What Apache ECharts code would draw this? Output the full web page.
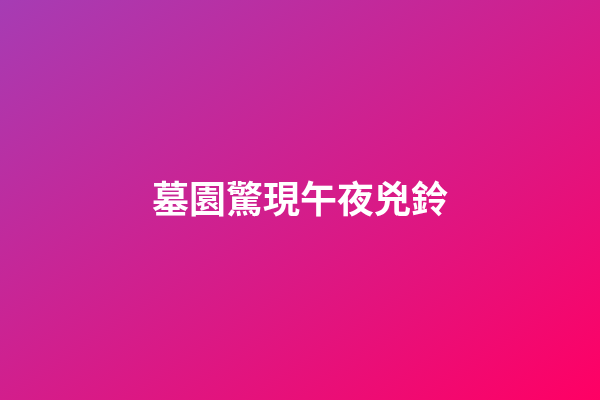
<!DOCTYPE html>
<html>
<head>
<meta charset="utf-8">
<script src="https://cdn.jsdelivr.net/npm/echarts@6/dist/echarts.min.js"></script>
<style>html,body{margin:0;padding:0;}#main{width:600px;height:400px;}</style>
</head>
<body>
<div id="main"></div>
<script>
var titleText = '墓園驚現午夜兇鈴';
var gradientColors = ['#a63cb4', '#ff0064'];

var chart = echarts.init(document.getElementById('main'));
chart.setOption({
  backgroundColor: new echarts.graphic.LinearGradient(115.4, -76.9, 484.6, 476.9, [
    { offset: 0, color: gradientColors[0] },
    { offset: 1, color: gradientColors[1] }
  ], true),
  graphic: [{
    type: 'text',
    x: 300,
    y: 199,
    style: {
      text: titleText,
      fill: '#ffffff',
      font: 'bold 37px "Noto Sans CJK TC", sans-serif',
      textAlign: 'center',
      textVerticalAlign: 'middle'
    }
  }]
});
</script>
</body>
</html>
